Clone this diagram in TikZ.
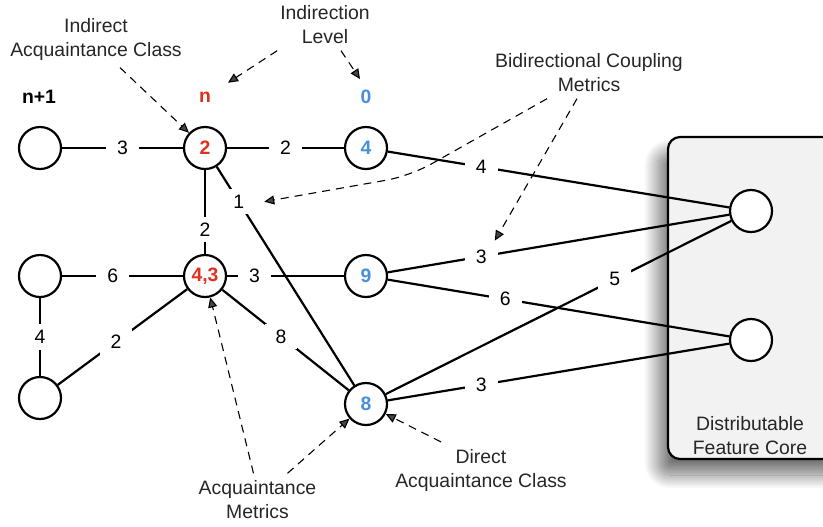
\documentclass[tikz,border=0pt]{standalone}
\usepackage{fontspec}
\setmainfont{Liberation Sans}
\usetikzlibrary{arrows.meta,shadows.blur}

\definecolor{levelred}{HTML}{E0301E}
\definecolor{levelblue}{HTML}{4A90D9}
\definecolor{coregray}{HTML}{F2F2F2}

\begin{document}
\begin{tikzpicture}[x=0.5pt,y=-0.5pt,font=\fontsize{9.7}{12}\selectfont,
  main_node/.style={circle,draw,line width=1.1pt,fill=white,minimum size=21pt,inner sep=0pt,font=\fontsize{9.7}{12}\selectfont\bfseries},
  weight/.style={fill=white,inner xsep=5.5pt,inner ysep=3pt},
  note/.style={align=center,text=black!85},
  level/.style={font=\fontsize{9.7}{12}\selectfont\bfseries},
  pointer/.style={dashed,dash pattern=on 4pt off 3pt,line width=0.55pt,-{Triangle[length=5pt,width=4.5pt]}}]

    \useasboundingbox (0,0) rectangle (823,526);

    % feature core box
    \draw[line width=1.1pt,rounded corners=6pt,fill=coregray,
      blur shadow={shadow xshift=-5pt,shadow yshift=-8pt,shadow blur radius=7pt,shadow blur steps=25,shadow opacity=55}]
      (668,137) rectangle (845,459);

    \node[note] (core) at (750,436) {Distributable\\Feature Core};

    \node[main_node] (1) at (40,148) {};
    \node[main_node, text=levelred] (2) at (205,148) {2};
    \node[main_node, text=levelblue] (3) at (366,148) {4};
    \node[main_node] (4) at (40,276) {};
    \node[main_node, text=levelred] (5) at (205,276) {4,3};
    \node[main_node, text=levelblue] (6) at (366,276) {9};
    \node[main_node] (7) at (40,398) {};
    \node[main_node, text=levelblue] (8) at (366,404) {8};
    \node[main_node] (9) at (751,211) {};
    \node[main_node] (10) at (751,340) {};

    \node[level] (l1) at (39,97) {n+1};
    \node[level, text=levelred] (l2) at (205,97) {n};
    \node[level, text=levelblue] (l3) at (366,97) {0};

    \node[note] (indirect) at (96,39.5) {Indirect\\Acquaintance Class};
    \node[note] (indirection) at (325,24.5) {Indirection\\Level};
    \node[note] (coupling) at (589,72.5) {Bidirectional Coupling\\Metrics};
    \node[note] (acquaintance) at (257.5,499.5) {Acquaintance\\Metrics};
    \node[note] (direct) at (481,470) {Direct\\Acquaintance Class};

    \draw[line width=1.1pt] (1) -- node[weight] {3} (2);
    \draw[line width=1.1pt] (2) -- node[weight] {2} (3);
    \draw[line width=1.1pt] (2) -- node[weight, pos=0.71] {2} (5);
    \draw[line width=1.1pt] (2) -- node[weight, pos=0.16] (w1) {1} (8);
    \draw[line width=1.1pt] (3) -- node[weight, pos=0.274] {4} (9);
    \draw[line width=1.1pt] (4) -- node[weight, pos=0.42] {6} (5);
    \draw[line width=1.1pt] (5) -- node[weight, pos=0.235] {3} (6);
    \draw[line width=1.1pt] (4) -- node[weight] {4} (7);
    \draw[line width=1.1pt] (7) -- node[weight, pos=0.45] {2} (5);
    \draw[line width=1.1pt] (5) -- node[weight, pos=0.465] {8} (8);
    \draw[line width=1.1pt] (6) -- node[weight, pos=0.274] (w2) {3} (9);
    \draw[line width=1.1pt] (6) -- node[weight, pos=0.344] {6} (10);
    \draw[line width=1.1pt] (8) -- node[weight, pos=0.663] {5} (9);
    \draw[line width=1.1pt] (8) -- node[weight, pos=0.274] {3} (10);

    \coordinate (bend) at (410,176);

    \draw[pointer] ([xshift=12pt]indirect.south) -- (2);
    \draw[pointer] ([xshift=2pt]indirection.south west) -- ([xshift=5pt,yshift=1pt]l2.north east);
    \draw[pointer] ([xshift=8pt]indirection.south) -- ([xshift=-3pt,yshift=2pt]l3.north);
    \draw[pointer, rounded corners=12pt] ([xshift=-21pt]coupling.south) -- (bend) -- ([xshift=4pt]w1.east);
    \draw[pointer] ([xshift=-6pt]coupling.south) -- ([xshift=-2pt,yshift=1pt]w2.north east);
    \draw[pointer] ([xshift=-2pt]acquaintance.north) -- (5);
    \draw[pointer] ([xshift=15pt]acquaintance.north) -- (8);
    \draw[pointer] ([xshift=-20pt]direct.north) -- (8);

\end{tikzpicture}
\end{document}
